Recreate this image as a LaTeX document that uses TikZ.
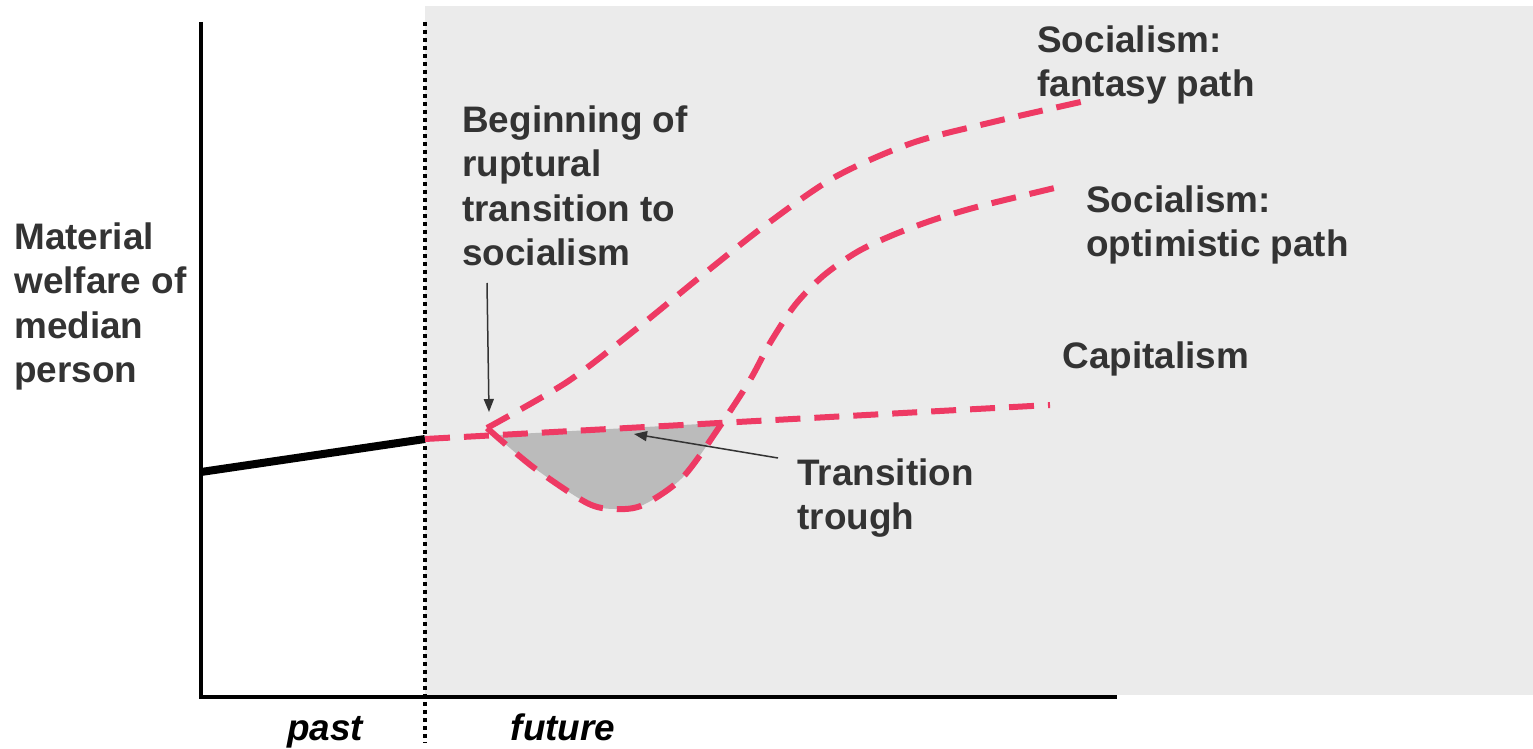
\documentclass[tikz,border=0pt]{standalone}
\usepackage{fontspec}
\setmainfont{Liberation Sans}
\usetikzlibrary{arrows.meta,positioning}
\definecolor{pathred}{HTML}{EE3A64}
\definecolor{panelgray}{HTML}{EBEBEB}
\definecolor{troughgray}{HTML}{BBBBBB}
\definecolor{labelgray}{HTML}{333333}
\tikzset{
  lbl/.style={font=\bfseries\fontsize{21pt}{25.4pt}\selectfont, text=labelgray,
    align=left, anchor=north west, inner sep=0pt},
  timelbl/.style={font=\bfseries\itshape\fontsize{21pt}{25.4pt}\selectfont,
    anchor=base, inner sep=0pt},
  redpath/.style={pathred, line width=0.12cm, dash pattern=on 0.5cm off 0.28cm},
  pointer/.style={labelgray, line width=0.03cm, -{Triangle[length=0.26cm,width=0.2cm]}},
}
\begin{document}
\begin{tikzpicture}[x=0.02cm, y=-0.02cm]
  \useasboundingbox (0,0) rectangle (1533,749);
  % future panel
  \fill[panelgray] (425,6) rectangle (1533,695);

  % axes
  \coordinate (top) at (201,22);
  \coordinate (origin) at (201,697);
  \coordinate (xend) at (1117,697);
  \draw[line width=0.08cm] (top) -- (origin) -- (xend);
  \draw[line width=0.08cm, dash pattern=on 0.08cm off 0.08cm] (425,22) -- (425,742);

  % points on the paths
  \coordinate (now) at (425,439);
  \coordinate (rupture) at (487,428);
  \coordinate (capend) at (1050,405);

  % transition trough
  \begin{scope}
    \clip (now) -- (capend) -- (1050,700) -- (425,700) -- cycle;
    \fill[troughgray] plot[smooth] coordinates {(487,428) (533,467) (587,503) (615,509)
      (643,505) (683,477) (722,423) (750,380) (770,343)} -- cycle;
  \end{scope}

  % past
  \draw[line width=0.16cm] (201,472) -- (now);

  % paths
  \draw[redpath] (now) -- (capend);
  \draw[redpath] plot[smooth] coordinates {(487,428) (567,382) (635,330) (700,277)
    (767,224) (835,177) (912,143) (993,122) (1085,101)};
  \draw[redpath] plot[smooth] coordinates {(487,428) (533,467) (587,503) (615,509)
    (643,505) (683,477) (722,423) (750,380) (770,343) (795,305) (823,276) (857,252)
    (893,235) (933,220) (973,208) (1013,198) (1067,185)};

  % labels
  \node[lbl] (welfare) at (14,222) {Material\\welfare of\\median\\person};
  \node[lbl] (beginning) at (462,105) {Beginning of\\ruptural\\transition to\\socialism};
  \node[lbl] (fantasy) at (1037,25) {Socialism:\\fantasy path};
  \node[lbl] (optimistic) at (1086,185) {Socialism:\\optimistic path};
  \node[lbl] (capitalism) at (1062,341) {Capitalism};
  \node[lbl] (trough) at (797,458) {Transition\\trough};
  \node[timelbl] (past) at (325,740) {past};
  \node[timelbl] (future) at (563,740) {future};

  % pointers
  \coordinate (beginfoot) at (487,283);
  \coordinate (troughfoot) at (778,458);
  \draw[pointer] (beginfoot) -- (489,412);
  \draw[pointer] (troughfoot) -- (634,434);
\end{tikzpicture}
\end{document}
